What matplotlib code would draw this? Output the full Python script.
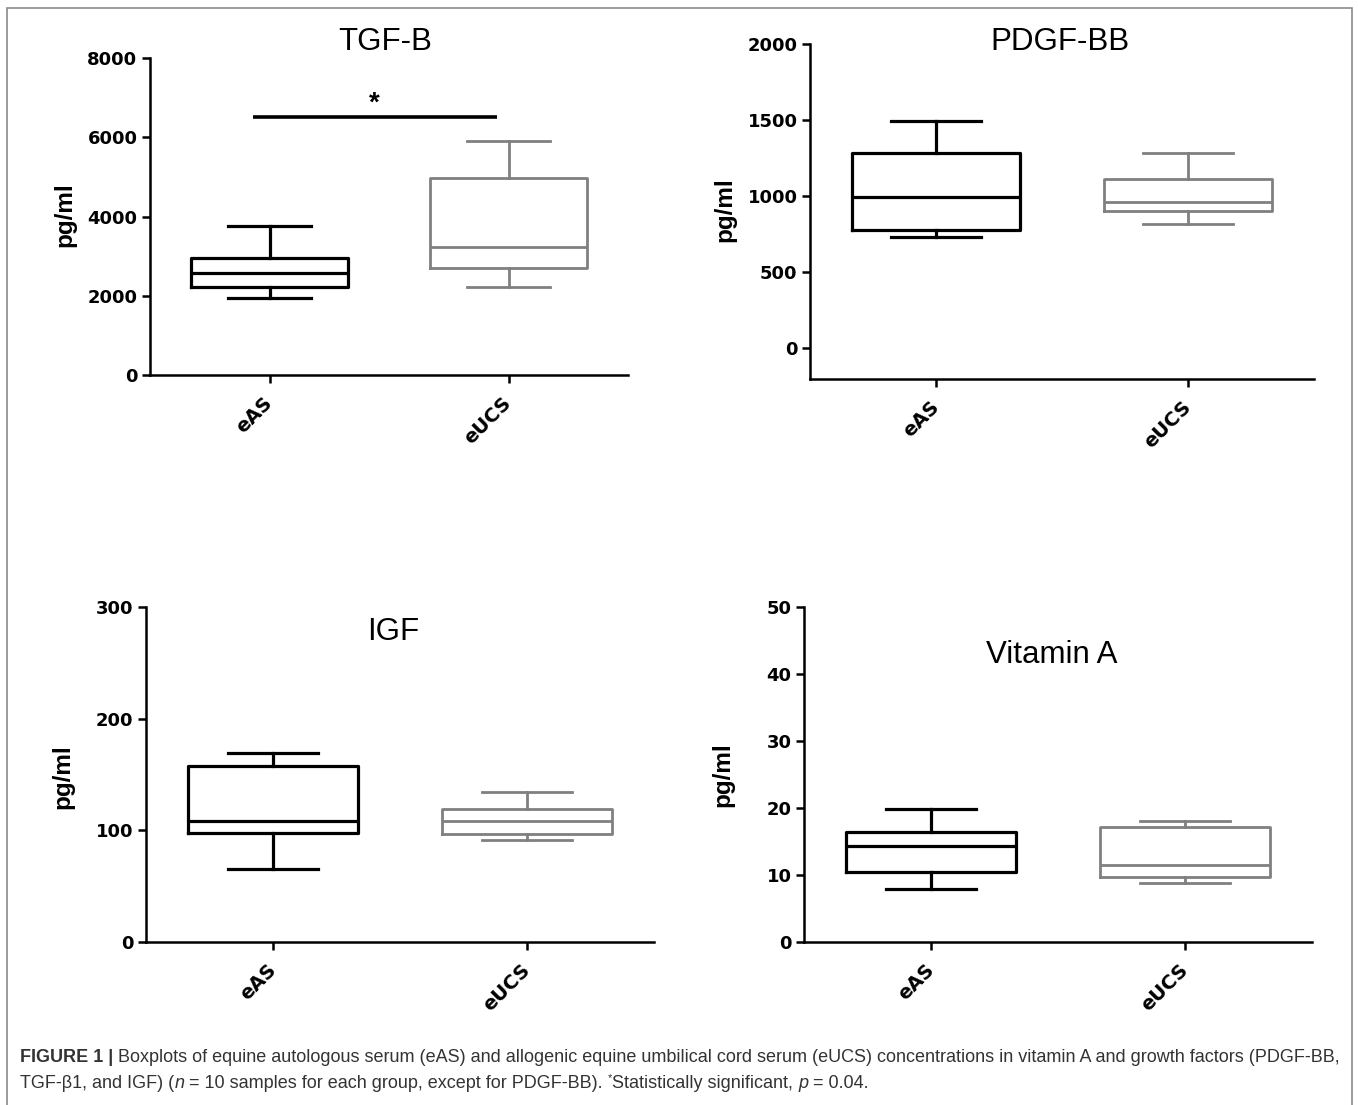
import matplotlib
matplotlib.use("Agg")
import matplotlib.pyplot as plt
from matplotlib.patches import Rectangle

plt.rcParams['font.family'] = ['Liberation Sans', 'DejaVu Sans']

W, H = 1358, 1105

groups = ['eAS', 'eUCS']

# box stats per panel: [whislo, q1, med, q3, whishi]
tgf_eas = [1950, 2220, 2570, 2950, 3770]
tgf_eucs = [2220, 2700, 3230, 4980, 5900]
pdgf_eas = [730, 775, 993, 1283, 1493]
pdgf_eucs = [816, 902, 962, 1110, 1283]
igf_eas = [65, 98, 108, 158, 169]
igf_eucs = [91, 97, 108, 119, 134]
vita_eas = [7.9, 10.4, 14.4, 16.4, 19.9]
vita_eucs = [8.8, 9.7, 11.5, 17.2, 18.1]

tgf_ticks = [0, 2000, 4000, 6000, 8000]
pdgf_ticks = [0, 500, 1000, 1500, 2000]
igf_ticks = [0, 100, 200, 300]
vita_ticks = [0, 10, 20, 30, 40, 50]

sig_level = 6500

colors = ['black', '#808080']
tick_font = dict(family='DejaVu Sans', fontsize=13, fontweight='bold')


def px_axes(fig, left, right, top, bottom):
    return fig.add_axes([left / W, 1 - bottom / H, (right - left) / W, (bottom - top) / H])


def make_stats(vals):
    lo, q1, med, q3, hi = vals
    return dict(whislo=lo, q1=q1, med=med, q3=q3, whishi=hi, fliers=[])


def draw_panel(ax, data_a, data_b, ylim, ticks, width):
    for i, vals in enumerate([data_a, data_b]):
        c = colors[i]
        lw = 2.3 if i == 0 else 2.0
        ax.bxp([make_stats(vals)], positions=[i + 1], widths=width, capwidths=width * 0.53,
               showfliers=False, manage_ticks=False,
               boxprops=dict(color=c, linewidth=lw),
               whiskerprops=dict(color=c, linewidth=lw),
               capprops=dict(color=c, linewidth=lw),
               medianprops=dict(color=c, linewidth=lw))
    ax.set_xlim(0.5, 2.5)
    ax.set_ylim(*ylim)
    ax.set_yticks(ticks)
    ax.set_yticklabels([str(t) for t in ticks], **tick_font)
    ax.set_xticks([1, 2])
    ax.set_xticklabels(groups, rotation=45, ha='right', va='center',
                       rotation_mode='anchor', family='DejaVu Sans',
                       fontsize=14, fontweight='bold')
    ax.spines['top'].set_visible(False)
    ax.spines['right'].set_visible(False)
    for s in ['left', 'bottom']:
        ax.spines[s].set_linewidth(1.8)
    ax.tick_params(direction='out', length=6, width=1.8, pad=3)
    ax.tick_params(axis='x', pad=12)
    ax.set_facecolor('none')


fig = plt.figure(figsize=(W / 100, H / 100), dpi=100)

# outer frame
fig.patches.append(Rectangle((7 / W, -0.01), (1352 - 7) / W, 1.01 - 8 / H,
                             transform=fig.transFigure, fill=False,
                             edgecolor='#8a8a8a', linewidth=1.2))

ax1 = px_axes(fig, 150, 628, 58, 375)
draw_panel(ax1, tgf_eas, tgf_eucs, (0, 8000), tgf_ticks, 0.66)
ax1.plot([0.93, 1.95], [sig_level, sig_level], color='black', linewidth=2.6, solid_capstyle='butt')
ax1.text(1.44, sig_level + 20, '*', ha='center', va='bottom', fontsize=20, fontweight='bold')

ax2 = px_axes(fig, 810, 1314, 44, 379)
draw_panel(ax2, pdgf_eas, pdgf_eucs, (-204, 2000), pdgf_ticks, 0.67)

ax3 = px_axes(fig, 146, 654, 607, 942)
draw_panel(ax3, igf_eas, igf_eucs, (0, 300), igf_ticks, 0.67)

ax4 = px_axes(fig, 804, 1312, 607, 942)
draw_panel(ax4, vita_eas, vita_eucs, (0, 50), vita_ticks, 0.67)

titles = [('TGF-B', 385, 42), ('PDGF-BB', 1060, 42), ('IGF', 393, 632), ('Vitamin A', 1052, 655)]
for t, x, y in titles:
    fig.text(x / W, 1 - y / H, t, ha='center', va='center', fontsize=22.5)

ylabels = [(65, 215), (725, 210), (63, 777), (723, 775)]
for x, y in ylabels:
    fig.text(x / W, 1 - y / H, 'pg/ml', ha='center', va='center', rotation=90,
             fontsize=17.5, fontweight='bold')

# caption, drawn piece by piece
renderer = fig.canvas.get_renderer()
cap_color = '#333333'


def write_line(pieces, x0, y0):
    x = x0
    for txt, style in pieces:
        kw = dict(fontsize=13, color=cap_color, va='baseline', ha='left')
        yy = y0
        if style == 'bold':
            kw['fontweight'] = 'bold'
        elif style == 'italic':
            kw['fontstyle'] = 'italic'
        elif style == 'sup':
            kw['fontsize'] = 8
            yy = y0 - 7
        t = fig.text(x / W, 1 - yy / H, txt, **kw)
        bb = t.get_window_extent(renderer)
        x += bb.width


line1 = [('FIGURE 1 |', 'bold'),
         (' Boxplots of equine autologous serum (eAS) and allogenic equine umbilical cord serum '
          '(eUCS) concentrations in vitamin A and growth factors (PDGF-BB,', 'normal')]
line2 = [('TGF-\u03b21, and IGF) (', 'normal'), ('n', 'italic'),
         (' = 10 samples for each group, except for PDGF-BB). ', 'normal'), ('*', 'sup'),
         ('Statistically significant, ', 'normal'), ('p', 'italic'), (' = 0.04.', 'normal')]
write_line(line1, 20, 1062)
write_line(line2, 20, 1088)

fig.savefig('out.png', dpi=100)
